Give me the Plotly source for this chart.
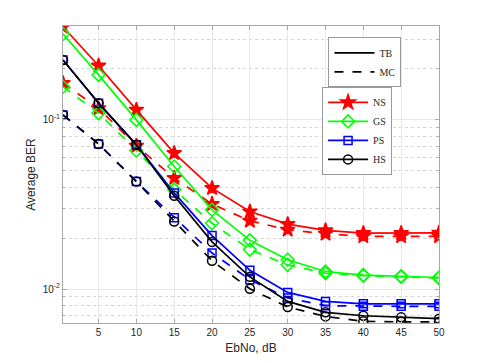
import plotly.graph_objects as go

ebno = [0.3, 5, 10, 15, 20, 25, 30, 35, 40, 45, 50]

# theoretical bound (TB)
ns_tb = [0.355, 0.209, 0.1146, 0.0636, 0.0395, 0.0287, 0.0242, 0.0222, 0.0214, 0.0214, 0.0215]
gs_tb = [0.322, 0.1845, 0.100, 0.053, 0.0294, 0.0194, 0.0149, 0.0127, 0.0121, 0.0119, 0.0117]
ps_tb = [0.226, 0.1256, 0.0712, 0.037, 0.0207, 0.0129, 0.00955, 0.00845, 0.00818, 0.00818, 0.00818]
hs_tb = [0.226, 0.1256, 0.0712, 0.0356, 0.0190, 0.0118, 0.00845, 0.00728, 0.00695, 0.0068, 0.00668]

# monte carlo (MC)
ns_mc = [0.165, 0.117, 0.0702, 0.0453, 0.0318, 0.0253, 0.0224, 0.0212, 0.0205, 0.0205, 0.0205]
gs_mc = [0.157, 0.1097, 0.0659, 0.0387, 0.0245, 0.0171, 0.0139, 0.0124, 0.0120, 0.0118, 0.0116]
ps_mc = [0.107, 0.0721, 0.0432, 0.0264, 0.01633, 0.01136, 0.00886, 0.00797, 0.0079, 0.0079, 0.0079]
hs_mc = [0.107, 0.0721, 0.0432, 0.0251, 0.01469, 0.01004, 0.00783, 0.00689, 0.00644, 0.0064, 0.0064]

schemes = [
    ('NS', ns_tb, ns_mc, '#ff0000', 'star', 11),
    ('GS', gs_tb, gs_mc, '#00ff00', 'diamond-open', 10),
    ('PS', ps_tb, ps_mc, '#0000ff', 'square-open', 8),
    ('HS', hs_tb, hs_mc, '#000000', 'circle-open', 9),
]

fig = go.Figure()

for name, tb, mc, color, symbol, size in schemes:
    marker = dict(symbol=symbol, size=size, color=color, line=dict(color=color, width=1.5))
    fig.add_trace(go.Scatter(
        x=ebno, y=tb, name=name, mode='lines+markers',
        line=dict(color=color, width=1.7), marker=marker,
        legend='legend', showlegend=True,
    ))
    fig.add_trace(go.Scatter(
        x=ebno, y=mc, name=name + ' MC', mode='lines+markers',
        line=dict(color=color, width=1.7, dash='dash'), marker=marker,
        showlegend=False,
    ))

# line style legend
fig.add_trace(go.Scatter(x=[None], y=[None], name='TB', mode='lines',
                         line=dict(color='black', width=1.8), legend='legend2'))
fig.add_trace(go.Scatter(x=[None], y=[None], name='MC', mode='lines',
                         line=dict(color='black', width=1.8, dash='dash'), legend='legend2'))

minor_vals = [m * 10 ** e for e in (-3, -2, -1) for m in range(2, 10)]

# page body has an 8px margin, so the figure is 8px smaller and margins shifted
fig.update_layout(
    width=477, height=355,
    margin=dict(l=55, r=46, t=18, b=40, autoexpand=False),
    plot_bgcolor='white',
    paper_bgcolor='white',
    font=dict(family='Liberation Sans, Arial', size=10, color='#262626'),
    legend=dict(x=0.689, y=0.795, xanchor='left', yanchor='top',
                bgcolor='white', bordercolor='#9a9a9a', borderwidth=1,
                font=dict(family='Liberation Serif, Times New Roman', size=10, color='#262626'),
                tracegroupgap=0, itemwidth=40),
    legend2=dict(x=0.706, y=0.962, xanchor='left', yanchor='top',
                 bgcolor='white', bordercolor='#9a9a9a', borderwidth=1,
                 font=dict(family='Liberation Serif, Times New Roman', size=10, color='#262626'),
                 itemwidth=40),
    showlegend=True,
)

fig.update_xaxes(
    range=[0.3, 50], automargin=False,
    tickvals=[5, 10, 15, 20, 25, 30, 35, 40, 45, 50],
    title=dict(text='EbNo, dB', standoff=6),
    showline=True, linecolor='#a8a8a8', linewidth=1, mirror='ticks',
    ticks='inside', ticklen=4, tickcolor='#a8a8a8',
    showgrid=True, gridcolor='#e8e8e8', gridwidth=1,
    zeroline=False,
)

fig.update_yaxes(
    type='log', automargin=False,
    range=[-2.2008, -0.445],
    tickvals=[0.01, 0.1],
    ticktext=['10<sup>-2</sup>', '10<sup>-1</sup>'],
    title=dict(text='Average BER', standoff=4),
    showline=True, linecolor='#a8a8a8', linewidth=1, mirror='ticks',
    ticks='inside', ticklen=4, tickcolor='#a8a8a8',
    showgrid=True, gridcolor='#e8e8e8', gridwidth=1,
    minor=dict(tickvals=minor_vals, showgrid=True, gridcolor='#d6d6d6',
               griddash='dot', ticks='inside', ticklen=2, tickcolor='#a8a8a8'),
    zeroline=False,
)

fig.write_html("out.html")
